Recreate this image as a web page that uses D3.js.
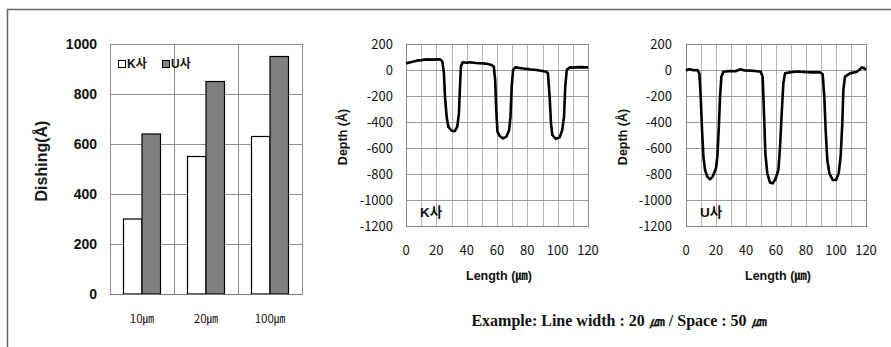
<!DOCTYPE html>
<html><head><meta charset="utf-8">
<script src="https://cdn.jsdelivr.net/npm/d3@7"></script>
<style>body{margin:0;background:#fff}svg{display:block}</style>
</head><body>
<svg id="c" width="891" height="347"></svg>
<script>
// ---- data ----
const categories = ["10㎛", "20㎛", "100㎛"];
const seriesNames = ["K사", "U사"];
const kValues = [300, 550, 630];
const uValues = [640, 850, 950];
const barTicks = [0, 200, 400, 600, 800, 1000];

const profileXTicks = [0, 20, 40, 60, 80, 100, 120];
const profileYTicks = [200, 0, -200, -400, -600, -800, -1000, -1200];

const kLength = [0,3,7,10,13.6,17,22,23,24,25,25.7,26.8,27.9,30,32.2,33.8,34.9,35.5,36.2,37.3,40,42,46,50.9,54,56.4,57.9,58.8,59.6,60.3,61.8,64,66.2,68,68.9,69.7,70.6,72,76,81.6,86,90,92.5,93.6,94.7,95.6,96.5,98.7,101.3,103,104.2,105,106,107.9,110,112,115,118.9,120];
const kDepth  = [51,60,72,76,82,80,82,78,64,-26,-205,-360,-436,-467,-470,-436,-333,-154,26,59,56,59,54,51,46,38,26,-77,-333,-474,-508,-526,-513,-462,-359,-128,0,20,14,5,0,-8,-13,-26,-205,-410,-500,-530,-518,-462,-359,-128,0,20,18,20,22,20,22];

const uLength = [0,1.5,2.7,5,7.6,8.9,9.8,10.7,11.6,12.7,14.2,16,17.8,20,20.9,21.8,22.7,23.6,24.9,29.3,33,36,39,42.7,46,49.8,51.1,52,52.9,54.2,56,57.8,59.6,61.6,62.7,63.8,64.9,66,69.3,74,78.2,84,89.3,91.1,92.2,93.1,94.2,95.6,97.8,100,101.8,103.1,104.2,104.9,106,109.3,113.8,116,117.1,118.5,120];
const uDepth  = [-5,5,5,-2,0,-26,-205,-462,-667,-769,-820,-841,-820,-756,-667,-462,-205,-51,-13,-8,-10,5,-3,-5,-8,-13,-51,-333,-641,-795,-867,-872,-841,-769,-590,-333,-103,-26,-18,-12,-15,-18,-18,-31,-205,-462,-692,-795,-846,-846,-795,-667,-410,-154,-51,-26,-13,5,20,15,0];

const svg = d3.select("#c");
const KR = "'Noto Sans CJK KR','Noto Sans',sans-serif";
const BOLD = "'Liberation Sans','Noto Sans CJK KR',sans-serif";

// outer frame (left + top)
svg.append("path").attr("d","M7.5,347 V9.5 H891").attr("fill","none").attr("stroke","#666").attr("stroke-width",1.5);

// ---- bar chart ----
const bx = d3.scaleBand().domain(categories).range([110, 302]).paddingInner(0).paddingOuter(0);
const by = d3.scaleLinear().domain([0, 1000]).range([294, 44]);
const bs = d3.scaleBand().domain(seriesNames).range([0, 37]);
const bar = svg.append("g");
bar.selectAll(".hg").data(barTicks).join("line")
  .attr("x1",110).attr("x2",302).attr("y1",d=>by(d)+0.5).attr("y2",d=>by(d)+0.5)
  .attr("stroke","#8c8c8c").attr("stroke-width",1);
bar.selectAll(".vg").data(categories.slice(1)).join("line")
  .attr("x1",d=>bx(d)+0.5).attr("x2",d=>bx(d)+0.5).attr("y1",44).attr("y2",294)
  .attr("stroke","#8c8c8c").attr("stroke-width",1);
bar.append("rect").attr("x",110.5).attr("y",44.5).attr("width",192).attr("height",250)
  .attr("fill","none").attr("stroke","#8c8c8c");
const vals = {"K사": kValues, "U사": uValues};
const fills = {"K사": "#ffffff", "U사": "#808080"};
seriesNames.forEach(s => {
  bar.selectAll(null).data(categories).join("rect")
    .attr("x",(d)=>bx(d)+bx.bandwidth()/2-18.5+bs(s))
    .attr("y",(d,i)=>by(vals[s][i]))
    .attr("width",bs.bandwidth())
    .attr("height",(d,i)=>by(0)-by(vals[s][i]))
    .attr("fill",fills[s]).attr("stroke","#000").attr("stroke-width",1.2);
});
bar.append("line").attr("x1",110).attr("x2",302).attr("y1",294.5).attr("y2",294.5).attr("stroke","#777");
bar.selectAll(".yt").data(barTicks).join("text")
  .attr("x",97).attr("y",d=>by(d)).attr("dy","0.36em").attr("text-anchor","end")
  .attr("font-family",BOLD).attr("font-weight",700).attr("font-size",14).attr("fill","#111")
  .text(d=>d);
bar.selectAll(".xt").data(categories).join("text")
  .attr("x",d=>bx(d)+bx.bandwidth()/2).attr("y",323).attr("text-anchor","middle")
  .attr("font-family",KR).attr("font-size",11.5).attr("fill","#111").text(d=>d);
bar.append("text").attr("transform","translate(41,161) rotate(-90)").attr("text-anchor","middle").attr("dy","0.36em")
  .attr("font-family",BOLD).attr("font-weight",700).attr("font-size",16).attr("fill","#1a1a1a").text("Dishing(Å)");
const leg = [{n:"K사", x:118},{n:"U사", x:162}];
leg.forEach(l=>{
  bar.append("rect").attr("x",l.x+0.5).attr("y",60.5).attr("width",7).attr("height",7)
    .attr("fill",fills[l.n]).attr("stroke","#000").attr("stroke-width",1);
  bar.append("text").attr("x",l.x+9).attr("y",64).attr("dy","0.36em")
    .attr("font-family",BOLD).attr("font-weight",700).attr("font-size",12).attr("fill","#111").text(l.n);
});

// ---- profile charts ----
function profile(x0, x1, xs, ys, label, ylabX, ytickX) {
  const g = svg.append("g");
  const x = d3.scaleLinear().domain([0,120]).range([x0,x1]);
  const y = d3.scaleLinear().domain([-1200,200]).range([226,44]);
  const vTicks = d3.range(10,120,10);
  g.selectAll(null).data(vTicks).join("line")
    .attr("x1",d=>Math.round(x(d))+0.5).attr("x2",d=>Math.round(x(d))+0.5).attr("y1",44).attr("y2",226)
    .attr("stroke","#b4b4b4").attr("stroke-width",1);
  g.selectAll(null).data(profileYTicks).join("line")
    .attr("x1",x0).attr("x2",x1).attr("y1",d=>Math.round(y(d))+0.5).attr("y2",d=>Math.round(y(d))+0.5)
    .attr("stroke","#9a9a9a").attr("stroke-width",1);
  g.append("rect").attr("x",x0+0.5).attr("y",44.5).attr("width",x1-x0).attr("height",182)
    .attr("fill","none").attr("stroke","#8a8a8a");
  g.selectAll(null).data(profileYTicks).join("text")
    .attr("x",ytickX).attr("y",d=>y(d)).attr("dy","0.36em").attr("text-anchor","end")
    .attr("font-family",KR).attr("font-size",13).attr("fill","#111").text(d=>d);
  g.selectAll(null).data(profileXTicks).join("text")
    .attr("x",d=>x(d)).attr("y",250).attr("dy","0.36em").attr("text-anchor","middle")
    .attr("font-family",KR).attr("font-size",13).attr("fill","#111").text(d=>d);
  const line = d3.line().x(d=>x(d[0])).y(d=>y(d[1])).curve(d3.curveLinear);
  g.append("path").datum(xs.map((v,i)=>[v,ys[i]])).attr("d",line)
    .attr("fill","none").attr("stroke","#000").attr("stroke-width",2.6).attr("stroke-linejoin","round");
  g.append("text").attr("x",x0+14).attr("y",212).attr("dy","0.36em")
    .attr("font-family",BOLD).attr("font-weight",700).attr("font-size",13.5).attr("fill","#111").text(label);
  g.append("text").attr("x",(x0+x1)/2+2).attr("y",275).attr("dy","0.36em").attr("text-anchor","middle")
    .attr("font-family",BOLD).attr("font-weight",700).attr("font-size",12.5).attr("fill","#111").text("Length (㎛)");
  g.append("text").attr("transform",`translate(${ylabX},137) rotate(-90)`).attr("text-anchor","middle").attr("dy","0.36em")
    .attr("font-family",BOLD).attr("font-weight",700).attr("font-size",12.5).attr("fill","#111").text("Depth (Å)");
}
profile(406, 588, kLength, kDepth, "K사", 342, 393);
profile(686, 866, uLength, uDepth, "U사", 622, 672);

svg.append("text").attr("x",619).attr("y",320).attr("dy","0.36em").attr("text-anchor","middle")
  .attr("font-family","'Liberation Serif','Times New Roman',serif").attr("font-weight",700).attr("font-size",16).attr("fill","#111")
  .text("Example: Line width : 20 ㎛ / Space : 50 ㎛");
</script>
</body></html>
